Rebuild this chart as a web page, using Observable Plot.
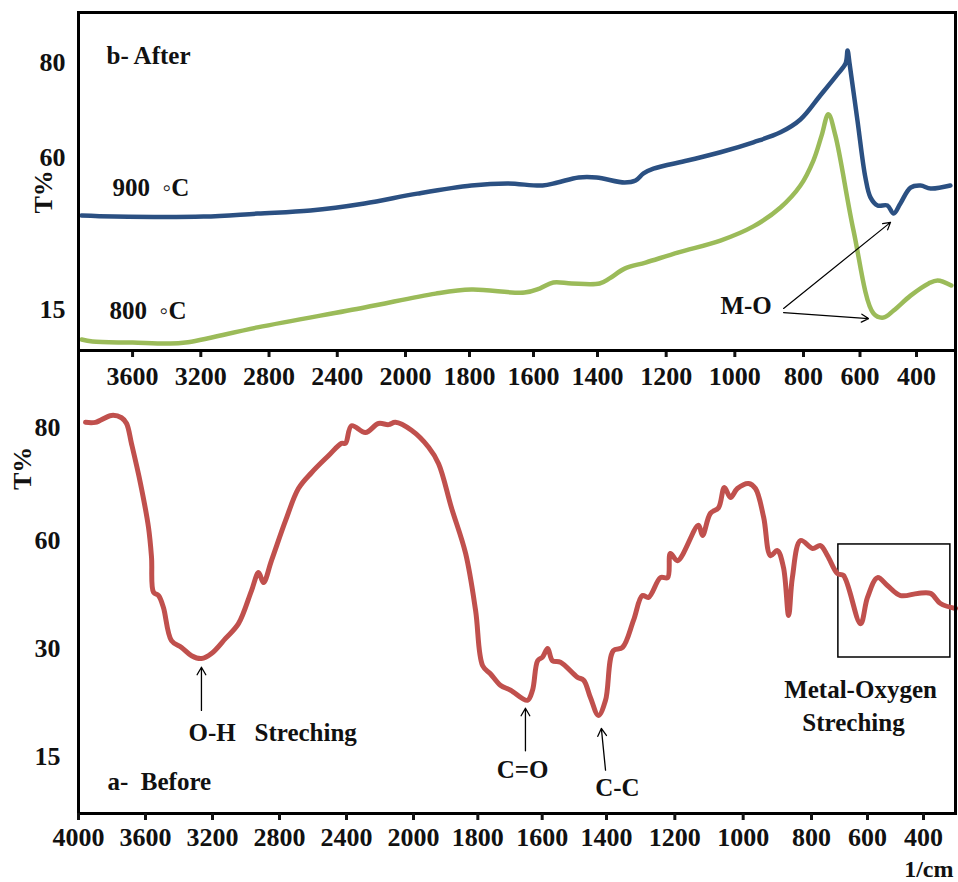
<!DOCTYPE html>
<html><head><meta charset="utf-8">
<script src="https://cdn.jsdelivr.net/npm/d3@7"></script>
<script src="https://cdn.jsdelivr.net/npm/@observablehq/plot@0.6"></script>
<style>
html,body{margin:0;padding:0;background:#fff;}
#wrap{position:relative;width:958px;height:882px;overflow:hidden;background:#fff;}
#wrap svg{position:absolute;left:0;}
</style></head><body><div id="wrap"></div>
<script>
// ---------- data ----------
const topXTicks = [3600, 3200, 2800, 2400, 2000, 1800, 1600, 1400, 1200, 1000, 800, 600, 400];
const bottomXTicks = [4000, 3600, 3200, 2800, 2400, 2000, 1800, 1600, 1400, 1200, 1000, 800, 600, 400];
const topYTicks = [80, 60, 15];
const bottomYTicks = [80, 60, 30, 15];

// wavenumber (1/cm), T%
const after900 = [[3899,42.8],[3706,42.5],[3184,42.5],[2868,43.4],[2557,44.3],[2240,46.4],[1963,49.3],[1794,51.7],[1681,52.3],[1572,51.7],[1525,52.6],[1459,54.1],[1403,54.1],[1321,52.6],[1289,53.2],[1266,55.3],[1237,56.7],[1138,59.1],[1042,61.1],[946,63.2],[867,65.3],[809,68.0],[740,73.1],[680,77.5],[651,79.8],[644,82.5],[637,79.8],[609,67.8],[581,54.1],[563,48.2],[538,45.8],[503,45.8],[481,43.4],[457,46.4],[421,51.1],[387,51.7],[356,50.8],[294,51.7]];
const after800 = [[3899,6.1],[3835,5.5],[3600,5.2],[3395,4.9],[3290,5.2],[2868,9.7],[2240,15.6],[1906,19.7],[1794,20.9],[1628,20.0],[1581,21.2],[1538,23.0],[1481,22.7],[1394,22.7],[1365,24.2],[1321,27.1],[1260,28.9],[1164,31.9],[1042,35.4],[946,39.6],[867,45.2],[809,51.7],[765,59.1],[736,64.6],[712,69.1],[687,64.6],[623,38.4],[552,13.8],[517,12.6],[481,14.7],[421,19.1],[362,22.7],[334,23.6],[291,22.1]];
const before = [[3958,80.9],[3899,80.9],[3803,82.1],[3743,81.7],[3713,80.7],[3684,77.2],[3630,70.1],[3582,62.3],[3564,55.3],[3552,45.6],[3522,44.7],[3493,41.4],[3445,32.2],[3385,30.3],[3325,29.0],[3266,28.6],[3206,29.3],[3122,32.8],[3045,36.9],[2967,46.1],[2925,51.1],[2896,48.3],[2848,54.4],[2764,63.5],[2687,69.2],[2609,72.0],[2508,75.0],[2430,77.2],[2406,77.2],[2370,80.3],[2287,79.1],[2209,80.7],[2149,80.5],[2108,80.9],[2012,79.5],[1953,76.5],[1922,73.6],[1882,65.8],[1838,56.4],[1807,40.6],[1785,27.6],[1761,26.5],[1730,24.9],[1698,24.2],[1646,22.8],[1630,24.2],[1614,28.3],[1599,28.8],[1583,30.0],[1568,28.3],[1543,28.1],[1490,26.0],[1471,25.6],[1450,23.2],[1425,20.7],[1403,22.8],[1380,29.7],[1353,30.3],[1321,37.8],[1295,44.7],[1277,44.2],[1242,49.7],[1221,49.7],[1213,56.4],[1192,54.4],[1131,62.7],[1119,60.9],[1096,64.8],[1072,65.8],[1055,69.4],[1037,67.6],[1017,69.2],[984,70.1],[964,69.2],[940,64.1],[920,55.8],[900,57.2],[882,52.5],[867,39.2],[856,49.7],[832,60.0],[796,57.8],[768,58.6],[743,55.8],[707,50.8],[686,50.3],[625,36.9],[600,44.2],[564,49.7],[529,47.5],[482,44.7],[421,45.3],[378,45.3],[347,42.5],[300,41.1]];

// annotations: [wavenumber, T%, text]
const topLabels = [[3753,81.3,"b- After"],[3718,51.1,"900 \u00a0\u25E6C"],[3735,14.7,"800 \u00a0\u25E6C"],[1042,15.9,"M-O"]];
const topArrows = [[858,15.3,492,40.8],[858,14.1,570,12.3]];
const bottomLabelsStart = [[3343,18.2,"O-H \u00a0\u00a0Streching"],[3827,11.5,"a- \u00a0Before"]];
const bottomLabelsMid = [[1661,13.1,"C=O"],[1368,10.6,"C-C"],[625,24.2,"Metal-Oxygen"],[650,19.7,"Streching"]];
const bottomArrows = [[3266,21.4,3266,27.4],[1652,15.8,1652,21.7],[1403,13.1,1416,18.9]];
const metalBox = [[704,316,28.75,58.9]];

// ---------- drawing ----------
const FONT = "'Liberation Serif','Times New Roman',serif";
const INK = "#111";
const rows = a => a.map(([w, t]) => ({w, t}));
const fmt = d3.format("d");
const wrap = document.getElementById("wrap");

const txt = {fontFamily: FONT, fontWeight: "bold", fontSize: 25, fill: INK};

const topPlot = Plot.plot({
  width: 958, height: 400,
  marginLeft: 78, marginRight: 3, marginTop: 12, marginBottom: 50,
  style: {background: "transparent", fontFamily: FONT, overflow: "visible"},
  x: {type: "linear", domain: [3917, 2000, 1400, 800, 400, 278], range: [78, 405, 597, 803, 916, 955]},
  y: {type: "linear", domain: [2.86, 15, 60, 80, 90.5], range: [350, 309, 157, 62, 12]},
  marks: [
    Plot.line(rows(after900), {x: "w", y: "t", stroke: "#2b5082", strokeWidth: 4.5, curve: "catmull-rom"}),
    Plot.line(rows(after800), {x: "w", y: "t", stroke: "#9bbb59", strokeWidth: 4.5, curve: "catmull-rom"}),
    Plot.frame({stroke: "black", strokeWidth: 3}),
    Plot.axisX({ticks: topXTicks, tickFormat: fmt, anchor: "bottom", tickSize: 7, tickPadding: 9, strokeWidth: 3, label: null, fontSize: 26, fontWeight: "bold", fontFamily: FONT, color: INK}),
    Plot.axisY({ticks: topYTicks, tickFormat: fmt, anchor: "left", tickSize: 0, tickPadding: 13, label: null, fontSize: 26, fontWeight: "bold", fontFamily: FONT, color: INK}),
    Plot.text(["T%"], {text: d => d, frameAnchor: "left", dx: -35, dy: 32, rotate: -90, ...txt, fontSize: 26}),
    Plot.text(topLabels, {x: d => d[0], y: d => d[1], text: d => d[2], textAnchor: "start", ...txt}),
    Plot.arrow(topArrows, {x1: d => d[0], y1: d => d[1], x2: d => d[2], y2: d => d[3], stroke: "black", strokeWidth: 1.2, headLength: 10})
  ]
});
topPlot.style.top = "0px";
wrap.appendChild(topPlot);

const bottomPlot = Plot.plot({
  width: 958, height: 532,
  marginLeft: 78, marginRight: 3, marginTop: 0, marginBottom: 69,
  style: {background: "transparent", fontFamily: FONT, overflow: "visible"},
  x: {type: "linear", domain: [4000, 2000, 1400, 800, 400, 300], range: [78, 413, 606, 811, 923, 955]},
  y: {type: "linear", domain: [7.1, 15, 30, 60, 80, 93.4], range: [463, 406, 298, 190, 77, 0]},
  marks: [
    Plot.rect(metalBox, {x1: d => d[0], x2: d => d[1], y1: d => d[2], y2: d => d[3], fill: "none", stroke: "black", strokeWidth: 1.5}),
    Plot.line(rows(before), {x: "w", y: "t", stroke: "#c0504d", strokeWidth: 5, curve: "catmull-rom"}),
    Plot.frame({stroke: "black", strokeWidth: 3}),
    Plot.axisX({ticks: bottomXTicks, tickFormat: fmt, anchor: "bottom", tickSize: 7, tickPadding: 7, strokeWidth: 3, label: null, fontSize: 26, fontWeight: "bold", fontFamily: FONT, color: INK}),
    Plot.axisY({ticks: bottomYTicks, tickFormat: fmt, anchor: "left", tickSize: 0, tickPadding: 18, label: null, fontSize: 26, fontWeight: "bold", fontFamily: FONT, color: INK}),
    Plot.text(["T%"], {text: d => d, frameAnchor: "left", dx: -56, dy: -92, rotate: -90, ...txt, fontSize: 26}),
    Plot.text(["1/cm"], {text: d => d, frameAnchor: "bottom-right", dx: -2, dy: 63, textAnchor: "end", ...txt, fontSize: 24}),
    Plot.text(bottomLabelsStart, {x: d => d[0], y: d => d[1], text: d => d[2], textAnchor: "start", ...txt}),
    Plot.text(bottomLabelsMid, {x: d => d[0], y: d => d[1], text: d => d[2], textAnchor: "middle", ...txt}),
    Plot.arrow(bottomArrows, {x1: d => d[0], y1: d => d[1], x2: d => d[2], y2: d => d[3], stroke: "black", strokeWidth: 1.3, headLength: 10})
  ]
});
bottomPlot.style.top = "350px";
wrap.appendChild(bottomPlot);
</script>
</body></html>
